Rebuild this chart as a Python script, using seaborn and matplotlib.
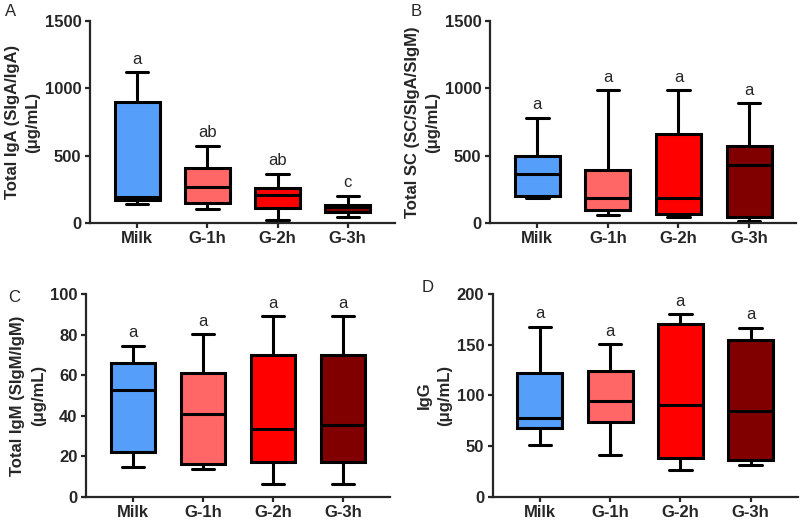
import numpy as np
import pandas as pd
import matplotlib.pyplot as plt
import seaborn as sns

groups = ["Milk", "G-1h", "G-2h", "G-3h"]
colors = ["#559FFA", "#FF6666", "#FF0000", "#800000"]

# five-number summaries: min, q1, median, q3, max
iga = [[140, 170, 195, 900, 1120], [105, 150, 265, 408, 575],
       [25, 112, 205, 260, 365], [48, 85, 117, 134, 204]]
sc = [[183, 200, 367, 495, 782], [58, 98, 183, 397, 986],
      [43, 64, 183, 661, 986], [15, 48, 430, 575, 889]]
igm = [[14.8, 22.2, 52.7, 65.9, 74.5], [14, 16.1, 40.9, 61, 80.2],
       [6.4, 17.3, 33.3, 69.7, 89], [6.6, 17.3, 35.4, 69.7, 89]]
igg = [[51.4, 67.5, 78, 122.6, 167.4], [41.2, 74.1, 94.6, 124.5, 150.6],
       [27, 38.9, 90.6, 170.7, 179.9], [31.3, 36.9, 85, 154.9, 166.4]]

iga_letters = ["a", "ab", "ab", "c"]
sc_letters = ["a", "a", "a", "a"]
igm_letters = ["a", "a", "a", "a"]
igg_letters = ["a", "a", "a", "a"]

sns.set_style("ticks")
plt.rcParams["font.family"] = ["Liberation Sans", "DejaVu Sans"]


def draw(ax, summary, letters, ylabel, ymax, step):
    df = pd.DataFrame({"group": np.repeat(groups, 5), "value": np.concatenate(summary)})
    sns.boxplot(data=df, x="group", y="value", hue="group", order=groups,
                palette=colors, saturation=1, whis=(0, 100), width=0.64,
                linewidth=2.2, linecolor="black", legend=False, ax=ax)
    for i, (vals, lt) in enumerate(zip(summary, letters)):
        ax.annotate(lt, (i, max(vals)), xytext=(0, 4), textcoords="offset points",
                    ha="center", va="bottom", fontsize=12)
    ax.set_xlim(-0.67, 3.67)
    ax.set_ylim(0, ymax)
    ax.set_yticks(np.arange(0, ymax + 1, step))
    ax.set_xlabel("")
    ax.set_ylabel(ylabel, fontsize=12, fontweight="bold", labelpad=3, linespacing=1.5)
    for s in ["top", "right"]:
        ax.spines[s].set_visible(False)
    for s in ["left", "bottom"]:
        ax.spines[s].set_linewidth(1.6)
    ax.tick_params(direction="out", length=3.6, width=1.6, labelsize=12, pad=2.5)
    for lab in ax.get_xticklabels() + ax.get_yticklabels():
        lab.set_fontweight("bold")


fig = plt.figure(figsize=(8, 5.22), dpi=100)
ax_a = fig.add_axes([0.1125, 0.5728, 0.381, 0.387])
ax_b = fig.add_axes([0.6125, 0.5728, 0.383, 0.387])
ax_c = fig.add_axes([0.1075, 0.0479, 0.38, 0.389])
ax_d = fig.add_axes([0.616, 0.0479, 0.381, 0.389])

draw(ax_a, iga, iga_letters, "Total IgA (SIgA/IgA)\n(\u03bcg/mL)", 1500, 500)
draw(ax_b, sc, sc_letters, "Total SC (SC/SIgA/SIgM)\n(\u03bcg/mL)", 1500, 500)
draw(ax_c, igm, igm_letters, "Total IgM (SIgM/IgM)\n(\u03bcg/mL)", 100, 20)
draw(ax_d, igg, igg_letters, "IgG\n(\u03bcg/mL)", 200, 50)

for lt, x, y in [("A", 11, 12), ("B", 416, 12), ("C", 14, 298), ("D", 428, 288)]:
    fig.text(x / 800, 1 - y / 522, lt, ha="center", va="center", fontsize=12)

fig.savefig("out.png", dpi=100)
